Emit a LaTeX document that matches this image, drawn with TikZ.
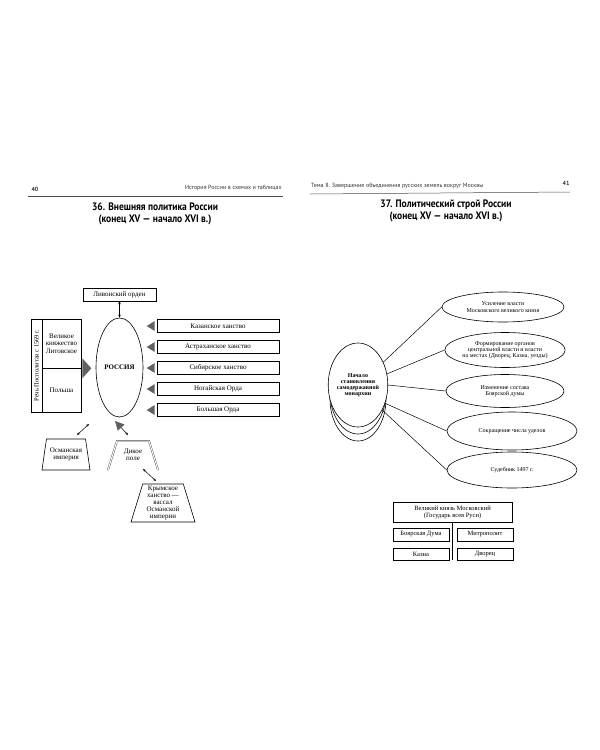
\documentclass[tikz,border=0pt]{standalone}
\usepackage{fontspec}
\setmainfont{Liberation Serif}
\newfontfamily\hdrfont{PT Sans}
\newfontfamily\titlefont[FakeStretch=0.88]{PT Sans}
\usetikzlibrary{shapes.geometric,arrows.meta,calc,positioning}
\definecolor{tri}{gray}{0.38}
\newcommand*{\Lbl}{\fontsize{7}{7.4}\selectfont}
\newcommand*{\Sml}{\fontsize{6}{6.2}\selectfont}
\tikzset{
  box/.style={draw,line width=0.6pt,minimum height=13pt,inner sep=1pt,font=\Lbl,align=center},
  oval/.style={draw,line width=0.6pt,ellipse,inner sep=0pt,font=\Sml,align=center},
  trap/.style={draw,line width=0.6pt,trapezium,trapezium stretches body,inner sep=1pt,font=\Lbl,align=center},
  dbl/.style={{Stealth[length=3pt,width=2.5pt]}-{Stealth[length=3pt,width=2.5pt]},line width=0.5pt},
  hdr/.style={font=\hdrfont\fontsize{6}{7}\selectfont,text=black!80,inner sep=0pt},
  ttl/.style={font=\titlefont\bfseries\fontsize{10.8}{12}\selectfont,align=center,inner sep=0pt}
}

\begin{document}
\begin{tikzpicture}[x=1pt,y=-1pt]
\useasboundingbox[fill=white] (0,0) rectangle (600,750);

% page heads
\node[hdr,font=\hdrfont\bfseries\fontsize{6}{7}\selectfont] (pg40) at (35,189) {40};
\node[hdr,anchor=east] (hdleft) at (282,188) {История России в схемах и таблицах};
\draw[line width=0.5pt,black!70] (28,196) -- (283,196);
\node[hdr,anchor=west] (hdright) at (311,186) {Тема 8. Завершение объединения русских земель вокруг Москвы};
\node[hdr,font=\hdrfont\bfseries\fontsize{6}{7}\selectfont] (pg41) at (566,183) {41};
\draw[line width=0.5pt,black!70] (310,194) -- (570,192);

\node[ttl] (t36) at (155,214) {36. Внешняя политика России\\(конец XV — начало XVI в.)};
\node[ttl] (t37) at (446,211) {37. Политический строй России\\(конец XV — начало XVI в.)};

% 36: Russia and neighbours
\node[box,minimum width=73pt] (livon) at (119.5,294.5) {Ливонский орден};
\node[oval,font=\Lbl\bfseries,minimum width=47pt,minimum height=99pt] (rus) at (119.5,367.5) {РОССИЯ};
\draw[dbl] (livon) -- (rus);

\foreach \nm/\txt/\yy in {kaz/Казанское ханство/326,astr/Астраханское ханство/347,
    sib/Сибирское ханство/368,nog/Ногайская Орда/389,bol/Большая Орда/410} {%
  \node[box,minimum width=122pt] (\nm) at (218,\yy) {\txt};
  \fill[tri] ($(\nm.west)+(-2,-5)$) -- ($(\nm.west)+(-2,5)$) -- ($(\nm.west)+(-10,0)$) -- cycle;
}

\node[box,minimum width=93pt,minimum height=11pt,inner sep=0pt,rotate=90,font=\fontsize{6.5}{7}\selectfont] (rzecz) at (36.5,365.5) {Речь Посполитая с 1569 г.};
\node[box,minimum width=39pt,minimum height=49pt] (litva) at (61.5,343.5) {Великое\\княжество\\Литовское};
\node[box,minimum width=39pt,minimum height=44pt] (polsha) at (61.5,390) {Польша};
\fill[tri] ($(litva.south east)+(1,-10)$) -- ($(litva.south east)+(1,10)$) -- ($(litva.south east)+(10,0)$) -- cycle;

\node[trap,trapezium left angle=74,trapezium right angle=74,minimum width=48pt,minimum height=31pt] (osman) at (66,454.5) {Османская\\империя};
\coordinate (os1) at (77,435);
\coordinate (os2) at (89,424);
\draw[dbl] (os1) -- (os2);

\node[font=\Lbl,align=center] (dikoe) at (133,455) {Дикое\\поле};
\coordinate (dk1) at (108,470);
\coordinate (dk2) at (117,441);
\coordinate (dk3) at (149,441);
\coordinate (dk4) at (158,470);
\draw[double=white,double distance=1pt,line width=0.4pt,black!70] (dk1) -- (dk2) -- (dk3) -- (dk4);
\coordinate (g1) at (115,421);
\coordinate (g2) at (128,435);
\draw[line width=0.5pt,{Triangle[length=9pt,width=9pt,fill=tri,color=tri]}-{Stealth[length=3pt,width=2.5pt]}] (g1) -- (g2);

\node[trap,trapezium left angle=72,trapezium right angle=72,minimum width=64pt,minimum height=38pt,font=\fontsize{7}{7}\selectfont] (krym) at (163,503) {Крымское\\ханство —\\вассал\\Османской\\империи};
\coordinate (kr1) at (143,469);
\coordinate (kr2) at (156,481);
\draw[dbl] (kr1) -- (kr2);

% 37: political system
\foreach \s in {14,7} \node[oval,fill=white,minimum width=56pt,minimum height=84pt] (nb\s) at (358,385+\s) {};
\node[oval,fill=white,font=\Sml\bfseries,minimum width=56pt,minimum height=84pt] (nachalo) at (358,385) {Начало\\становления\\самодержавной\\монархии};

\node[oval,minimum width=122pt,minimum height=30pt] (usil) at (503,307) {Усиление власти\\Московского великого князя};
\node[oval,minimum width=118pt,minimum height=35pt] (form) at (505,350) {Формирование органов\\центральной власти и власти\\на местах (Дворец, Казна, уезды)};
\node[oval,minimum width=118pt,minimum height=33pt] (izm) at (505,391) {Изменение состава\\Боярской думы};
\node[oval,minimum width=130pt,minimum height=38pt] (sokr) at (512,431) {Сокращение числа уделов};
\node[oval,minimum width=130pt,minimum height=36pt] (sud) at (512,470) {Судебник 1497 г.};

\foreach \a/\t in {42/usil,21/form,0/izm,326/sokr,314/sud}
  \draw[line width=0.5pt] (nachalo.\a) -- (\t.west);

\node[box,minimum width=119pt,minimum height=20pt,font=\fontsize{6.5}{7}\selectfont] (velikiy) at (452.5,512) {Великий князь Московский\\(Государь всея Руси)};
\node[box,minimum width=56pt,font=\fontsize{6.5}{7}\selectfont] (duma) at (421,534.5) {Боярская Дума};
\node[box,minimum width=56pt,font=\fontsize{6.5}{7}\selectfont] (mitr) at (485,534.5) {Митрополит};
\node[box,minimum width=56pt,minimum height=12pt,font=\fontsize{6.5}{7}\selectfont] (kazna) at (421,554) {Казна};
\node[box,minimum width=56pt,minimum height=12pt,font=\fontsize{6.5}{7}\selectfont] (dvorec) at (485,554) {Дворец};
\draw[line width=0.6pt] (velikiy.south) -- (velikiy.south |- kazna.south);

\end{tikzpicture}
\end{document}
